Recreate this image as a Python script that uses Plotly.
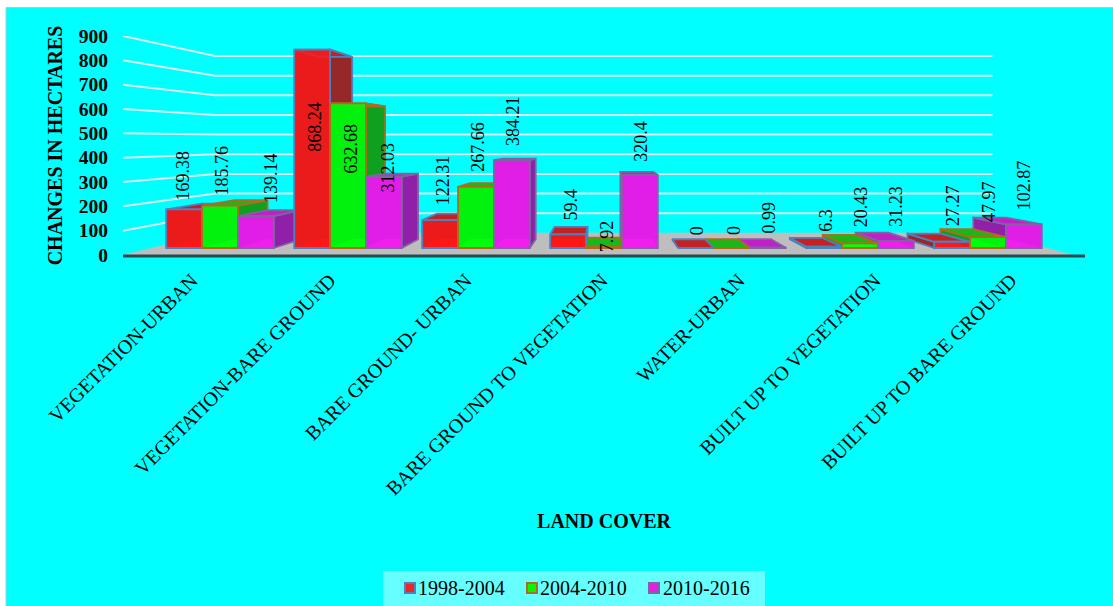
import plotly.graph_objects as go

# Land-cover change data (hectares)
categories = ["VEGETATION-URBAN", "VEGETATION-BARE GROUND", "BARE GROUND- URBAN",
              "BARE GROUND TO VEGETATION", "WATER-URBAN", "BUILT UP TO VEGETATION",
              "BUILT UP TO BARE GROUND"]
series_names = ["1998-2004", "2004-2010", "2010-2016"]
values_1998_2004 = [169.38, 868.24, 122.31, 59.4, 0, 6.3, 27.27]
values_2004_2010 = [185.76, 632.68, 267.66, 7.92, 0, 20.43, 47.97]
values_2010_2016 = [139.14, 312.03, 384.21, 320.4, 0.99, 31.23, 102.87]
y_ticks = [0, 100, 200, 300, 400, 500, 600, 700, 800, 900]
all_values = [values_1998_2004, values_2004_2010, values_2010_2016]

# Styling per series; the fronts are translucent so the box behind shows through
front_colors = ["rgba(255,25,25,0.82)", "rgba(0,255,10,0.85)", "rgba(240,30,240,0.85)"]
swatch_colors = ["#EE2626", "#06F406", "#E021E0"]
floor_colors = ["#FF1414", "#00FF00", "#FF1EF0"]
side_colors = ["#96282A", "#10A020", "#9020A8"]
top_colors = ["#C42222", "#18B818", "#C020C8"]
edge_colors = ["#4F81BD", "#B06C1C", "#8064A2"]

# Value-label placement: lift above the bar top and sideways nudge, in pixels
label_lift = [[34, -77, 40, 30, 17, 26, 36],
              [35, -45, 40, 10, 17, 36, 35],
              [38, 9, 39, 34, 30, 35, 39]]
label_nudge = [[-1, 2, 3, 3, 1, 1, 1],
               [2, 3, 2, 3, 2, 1, 1],
               [15, 4, 1, 1, 1, 0, 1]]

# Screen layout of the pseudo-3D box, in pixels
W, H = 1113, 606
PLOT_L, PLOT_R, PLOT_T, PLOT_B = 123, 1085, 36, 255
VP_X, VP_Y = 603, 140           # vanishing point of the box
WALL_SCALE = 0.808              # back wall relative to the front axis plane
BAR_DEPTH = 0.919               # rear of a bar relative to its front face
BAR_BASE = 248                  # front-face baseline
BAR_PX_PER_UNIT = 0.2285
CAT_PX = 128
CAT0_PX = 220
BAR_W = 0.28

x_min = (PLOT_L - CAT0_PX) / CAT_PX
x_max = (PLOT_R - CAT0_PX) / CAT_PX
bar_y_low = (BAR_BASE - PLOT_B) / BAR_PX_PER_UNIT
bar_y_high = (BAR_BASE - PLOT_T) / BAR_PX_PER_UNIT
label_tick_px = [192, 330, 466, 602, 739, 875, 1011]


def data_x(px):
    return (px - CAT0_PX) / CAT_PX


def data_y(py):
    return (PLOT_B - py) * 900 / (PLOT_B - PLOT_T)


def paper_x(px):
    return (px - PLOT_L) / (PLOT_R - PLOT_L)


def paper_y(py):
    return (PLOT_B - py) / (PLOT_B - PLOT_T)


def recede(px, py, k):
    return VP_X + (px - VP_X) * k, VP_Y + (py - VP_Y) * k


def polygon(points, fill, edge, width=1.8):
    xs = [data_x(p[0]) for p in points] + [data_x(points[0][0])]
    ys = [data_y(p[1]) for p in points] + [data_y(points[0][1])]
    return go.Scatter(x=xs, y=ys, mode="lines", fill="toself", fillcolor=fill,
                      line=dict(color=edge, width=width), xaxis="x", yaxis="y",
                      showlegend=False, hoverinfo="skip")


fig = go.Figure()

# Floor of the box
floor = [(PLOT_L, PLOT_B), recede(PLOT_L, PLOT_B, WALL_SCALE),
         recede(PLOT_R, PLOT_B, WALL_SCALE), (1072, PLOT_B)]
fig.add_trace(polygon(floor, "#BEBEBE", "#BEBEBE", 0.5))

# Gridlines: along the left wall, then across the back wall
for tick in y_ticks[1:]:
    front_py = PLOT_B - tick * (PLOT_B - PLOT_T) / 900
    corner = recede(PLOT_L, front_py, WALL_SCALE)
    far = recede(PLOT_R, front_py, WALL_SCALE)
    fig.add_trace(go.Scatter(
        x=[data_x(PLOT_L), data_x(corner[0]), data_x(far[0])],
        y=[tick, data_y(corner[1]), data_y(far[1])],
        mode="lines", line=dict(color="#D8EEEE", width=2), xaxis="x", yaxis="y",
        showlegend=False, hoverinfo="skip"))

# Inner faces of each bar, painted from the outside in toward the vanishing point
faces = []
for s, series in enumerate(all_values):
    for c, v in enumerate(series):
        left = CAT0_PX + CAT_PX * (c + (s - 1.5) * BAR_W)
        faces.append((s, c, v, left, left + CAT_PX * BAR_W))
faces.sort(key=lambda f: -abs((f[3] + f[4]) / 2 - VP_X))

for s, c, v, left, right in faces:
    top_py = BAR_BASE - v * BAR_PX_PER_UNIT
    edge_px = right if (left + right) / 2 < VP_X else left
    backing = [(left, BAR_BASE), (right, BAR_BASE), (right, top_py), (left, top_py)]
    base = [(left, BAR_BASE), (right, BAR_BASE),
            recede(right, BAR_BASE, BAR_DEPTH), recede(left, BAR_BASE, BAR_DEPTH)]
    side = [(edge_px, BAR_BASE), (edge_px, top_py),
            recede(edge_px, top_py, BAR_DEPTH), recede(edge_px, BAR_BASE, BAR_DEPTH)]
    lid = [(left, top_py), (right, top_py),
           recede(right, top_py, BAR_DEPTH), recede(left, top_py, BAR_DEPTH)]
    if v > 0:
        fig.add_trace(polygon(backing, side_colors[s], side_colors[s], 0.5))
    if v >= 5:
        fig.add_trace(polygon(base, floor_colors[s], floor_colors[s], 0.5))
    fig.add_trace(polygon(side, side_colors[s], edge_colors[s]))
    fig.add_trace(polygon(lid, top_colors[s], edge_colors[s]))

# Front faces of the bars
for s, series in enumerate(all_values):
    fig.add_trace(go.Bar(
        x=list(range(len(categories))), y=series, name=series_names[s],
        marker=dict(color=front_colors[s], line=dict(color=edge_colors[s], width=1.8)),
        xaxis="x", yaxis="y2", showlegend=False))

annotations = []
for s, series in enumerate(all_values):
    for c, v in enumerate(series):
        annotations.append(dict(
            x=c + (s - 1) * BAR_W, y=v, xref="x", yref="y2", text=str(v),
            showarrow=False, textangle=-90, xanchor="center", yanchor="middle",
            xshift=label_nudge[s][c], yshift=label_lift[s][c],
            font=dict(family="Liberation Serif", size=18, color="black")))

# Legend strip
legend_box = dict(x0=383, x1=765, y0=571, y1=606)
swatch_px = [404, 526, 648]
text_px = [418, 540, 663]

shapes = [
    dict(type="rect", xref="paper", yref="paper", layer="below",
         x0=paper_x(6), x1=paper_x(W + 2), y0=paper_y(H + 2), y1=paper_y(7.5),
         fillcolor="#00FFFF", line=dict(color="#8FD6DC", width=1)),
    dict(type="rect", xref="paper", yref="paper", layer="below",
         x0=paper_x(legend_box["x0"]), x1=paper_x(legend_box["x1"]),
         y0=paper_y(legend_box["y1"]), y1=paper_y(legend_box["y0"]),
         fillcolor="#66FFFF", line=dict(width=0)),
    # Front edge of the floor
    dict(type="line", xref="paper", yref="paper", layer="above",
         x0=paper_x(PLOT_L), x1=paper_x(PLOT_R), y0=paper_y(256), y1=paper_y(256),
         line=dict(color="#264A50", width=3)),
]
for s, name in enumerate(series_names):
    shapes.append(dict(type="rect", xref="paper", yref="paper", layer="below",
                       x0=paper_x(swatch_px[s] + 1), x1=paper_x(swatch_px[s] + 11),
                       y0=paper_y(593), y1=paper_y(583),
                       fillcolor=swatch_colors[s],
                       line=dict(color=edge_colors[s], width=2)))
    annotations.append(dict(x=paper_x(text_px[s]), y=paper_y(588), xref="paper", yref="paper",
                            text=name, showarrow=False, xanchor="left", yanchor="middle",
                            xshift=-2,
                            font=dict(family="Liberation Serif", size=20, color="black")))

fig.update_layout(
    width=W, height=H, autosize=False,
    margin=dict(l=PLOT_L, r=W - PLOT_R, t=PLOT_T, b=H - PLOT_B),
    paper_bgcolor="white", plot_bgcolor="rgba(0,0,0,0)",
    barmode="group", bargap=1 - 3 * BAR_W, bargroupgap=0,
    font=dict(family="Liberation Serif", color="black"),
    shapes=shapes, annotations=annotations, showlegend=False,
    xaxis=dict(range=[x_min, x_max], tickmode="array",
               tickvals=[data_x(p) for p in label_tick_px], ticktext=categories,
               tickangle=-45, ticks="", ticklen=0, showgrid=False, zeroline=False,
               showline=False, ticklabelstandoff=9,
               tickfont=dict(family="Liberation Serif", size=20, color="black"),
               title=dict(text="<b>LAND COVER</b>", standoff=15,
                          font=dict(family="Liberation Serif", size=20, color="black"))),
    yaxis=dict(range=[0, 900], tickmode="array", tickvals=y_ticks, ticks="", ticklen=0,
               showgrid=False, zeroline=False, showline=False, ticklabelstandoff=14,
               tickfont=dict(family="Liberation Serif", size=19.5, color="black", weight="bold"),
               title=dict(text="<b>CHANGES IN HECTARES</b>", standoff=10,
                          font=dict(family="Liberation Serif", size=20, color="black"))),
    yaxis2=dict(range=[bar_y_low, bar_y_high], overlaying="y", visible=False),
)

fig.write_html("out.html", config=dict(displayModeBar=False))
